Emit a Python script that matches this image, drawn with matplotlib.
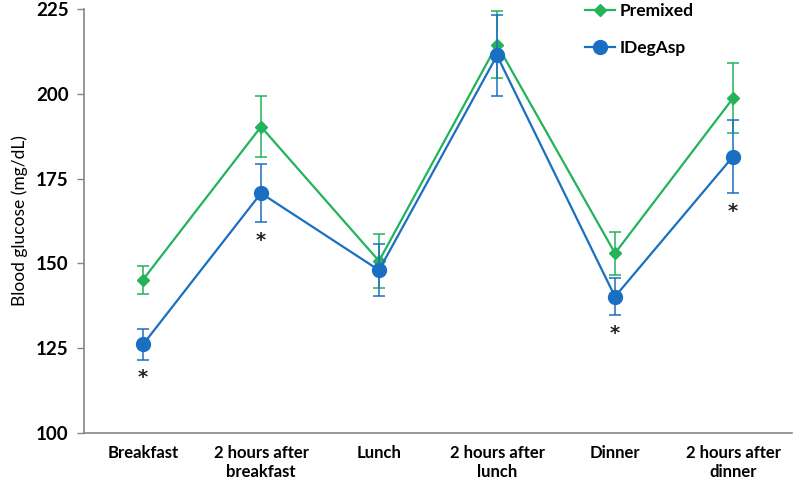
import matplotlib.pyplot as plt
from matplotlib.lines import Line2D

categories = ["Breakfast", "2 hours after\nbreakfast", "Lunch",
              "2 hours after\nlunch", "Dinner", "2 hours after\ndinner"]
premixed = [145.2, 190.3, 150.7, 214.5, 153.0, 198.7]
premixed_err = [4.1, 9.0, 8.0, 9.8, 6.3, 10.3]
idegasp = [126.1, 170.7, 148.0, 211.3, 140.2, 181.5]
idegasp_err = [4.5, 8.5, 7.7, 12.0, 5.4, 10.8]
significant = [True, True, False, False, True, True]

green = "#22b35b"
blue = "#1b6fc2"

plt.rcParams["font.family"] = ["Lato", "DejaVu Sans"]

fig = plt.figure(figsize=(7.97, 4.87), dpi=100)
ax = fig.add_axes([84 / 797, 54 / 487, 708 / 797, 424 / 487])

x = list(range(len(categories)))
ax.errorbar(x, premixed, yerr=premixed_err, color=green, marker="D",
            markersize=6.5, linewidth=1.6, elinewidth=1.1, capsize=4,
            capthick=1.1, zorder=3)
ax.errorbar(x, idegasp, yerr=idegasp_err, color=blue, marker="o",
            markersize=10, linewidth=1.6, elinewidth=1.1, capsize=4,
            capthick=1.1, zorder=4)

# significance markers under IDegAsp
for i, sig in enumerate(significant):
    if sig:
        ax.annotate("*", (i, idegasp[i] - idegasp_err[i]), xytext=(0, -13),
                    textcoords="offset points", ha="center", va="center",
                    fontsize=14, fontweight="bold", color="#222222",
                    family="DejaVu Sans")

ax.set_xlim(-0.5, 5.5)
ax.set_ylim(100, 225)
ax.set_yticks([100, 125, 150, 175, 200, 225])
ax.set_xticks(x)
ax.set_xticklabels(categories, fontweight="bold", fontsize=12)
for lab in ax.get_yticklabels():
    lab.set_fontweight("bold")
    lab.set_fontsize(13.5)
ax.tick_params(axis="x", length=0, pad=9)
ax.tick_params(axis="y", length=5, width=1, color="#868686", pad=6)
ax.set_ylabel("Blood glucose (mg/dL)", fontsize=12.5, labelpad=6)

for side in ["top", "right"]:
    ax.spines[side].set_visible(False)
for side in ["left", "bottom"]:
    ax.spines[side].set_color("#868686")
    ax.spines[side].set_linewidth(1.2)

handles = [
    Line2D([], [], color=green, marker="D", markersize=6.5, linewidth=1.6),
    Line2D([], [], color=blue, marker="o", markersize=10, linewidth=1.6),
]
ax.legend(handles, ["Premixed", "IDegAsp"], loc="upper left",
          bbox_to_anchor=(585 / 797, 1 - 3 / 487),
          bbox_transform=fig.transFigure, frameon=False, borderpad=0,
          borderaxespad=0, labelspacing=1.2, handlelength=1.7,
          handletextpad=0.3, prop={"weight": "bold", "size": 12.5})

fig.savefig("out.png", dpi=100)
